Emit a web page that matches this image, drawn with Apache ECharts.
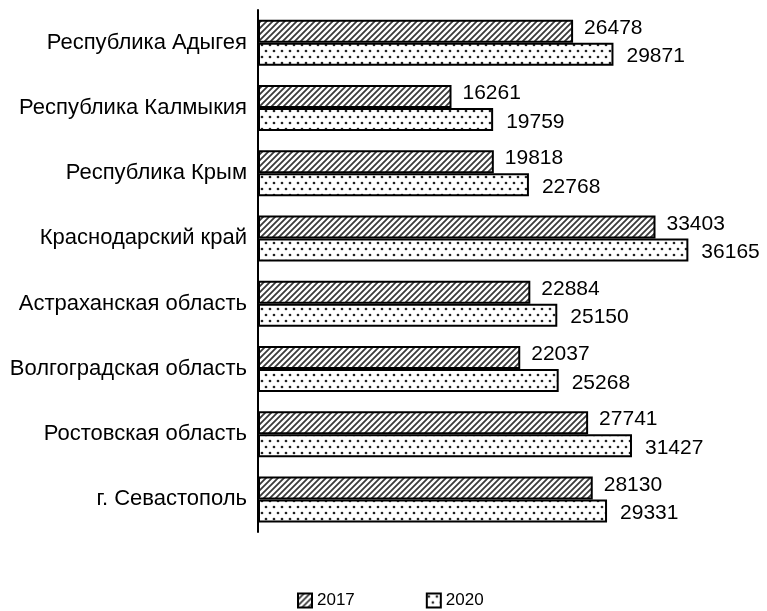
<!DOCTYPE html>
<html>
<head>
<meta charset="utf-8">
<script src="https://cdn.jsdelivr.net/npm/echarts@6/dist/echarts.min.js"></script>
<style>
  html, body { margin: 0; padding: 0; background: #fff; }
  #chart { width: 767px; height: 611px; }
</style>
</head>
<body>
<div id="chart"></div>
<script>
// Regions, top to bottom
const regions = [
  'Республика Адыгея',
  'Республика Калмыкия',
  'Республика Крым',
  'Краснодарский край',
  'Астраханская область',
  'Волгоградская область',
  'Ростовская область',
  'г. Севастополь'
];
const years = ['2017', '2020'];
const values2017 = [26478, 16261, 19818, 33403, 22884, 22037, 27741, 28130];
const values2020 = [29871, 19759, 22768, 36165, 25150, 25268, 31427, 29331];

// Hatched fill: upward diagonal stripes
function hatchPattern() {
  const s = 6;
  const c = document.createElement('canvas');
  c.width = s; c.height = s;
  const g = c.getContext('2d');
  g.fillStyle = '#fff';
  g.fillRect(0, 0, s, s);
  g.strokeStyle = '#3a3a3a';
  g.lineWidth = 1.8;
  g.beginPath();
  g.moveTo(-1, s + 1); g.lineTo(s + 1, -1);
  g.moveTo(-1, 1); g.lineTo(1, -1);
  g.moveTo(s - 1, s + 1); g.lineTo(s + 1, s - 1);
  g.stroke();
  return c;
}

// Dotted fill: staggered small dots
function dotPattern() {
  const w = 8, h = 12;
  const c = document.createElement('canvas');
  c.width = w; c.height = h;
  const g = c.getContext('2d');
  g.fillStyle = '#fff';
  g.fillRect(0, 0, w, h);
  g.fillStyle = '#222';
  [[2, 3], [6, 9]].forEach(([x, y]) => {
    g.beginPath();
    g.arc(x, y, 1.35, 0, Math.PI * 2);
    g.fill();
  });
  return c;
}

const font = '"Liberation Sans", Arial, sans-serif';
const chart = echarts.init(document.getElementById('chart'));

chart.setOption({
  animation: false,
  backgroundColor: '#fff',
  textStyle: { fontFamily: font, color: '#000' },
  grid: { left: 258, top: 10, width: 476, height: 522 },
  legend: {
    data: years,
    left: 297,
    top: 592,
    padding: 0,
    itemWidth: 14,
    itemHeight: 14,
    itemGap: 71,
    icon: 'rect',
    textStyle: { fontSize: 17, color: '#000', fontFamily: font }
  },
  xAxis: {
    type: 'value',
    min: 0,
    max: 40000,
    show: false,
    splitLine: { show: false }
  },
  yAxis: {
    type: 'category',
    data: regions,
    inverse: true,
    axisLine: { show: true, lineStyle: { color: '#000', width: 2 } },
    axisTick: { show: false },
    axisLabel: { fontSize: 22, color: '#000', margin: 11, fontFamily: font }
  },
  series: [
    {
      name: years[0],
      type: 'bar',
      data: values2017,
      barWidth: 23,
      barGap: '0%',
      itemStyle: {
        color: { image: hatchPattern(), repeat: 'repeat' },
        borderColor: '#000',
        borderWidth: 2
      },
      label: {
        show: true,
        position: 'right',
        distance: 11,
        offset: [0, -3],
        fontSize: 21,
        color: '#000',
        fontFamily: font
      }
    },
    {
      name: years[1],
      type: 'bar',
      data: values2020,
      barWidth: 23,
      barGap: '0%',
      itemStyle: {
        color: { image: dotPattern(), repeat: 'repeat' },
        borderColor: '#000',
        borderWidth: 2
      },
      label: {
        show: true,
        position: 'right',
        distance: 13,
        offset: [0, 2.5],
        fontSize: 21,
        color: '#000',
        fontFamily: font
      }
    }
  ]
});
</script>
</body>
</html>
